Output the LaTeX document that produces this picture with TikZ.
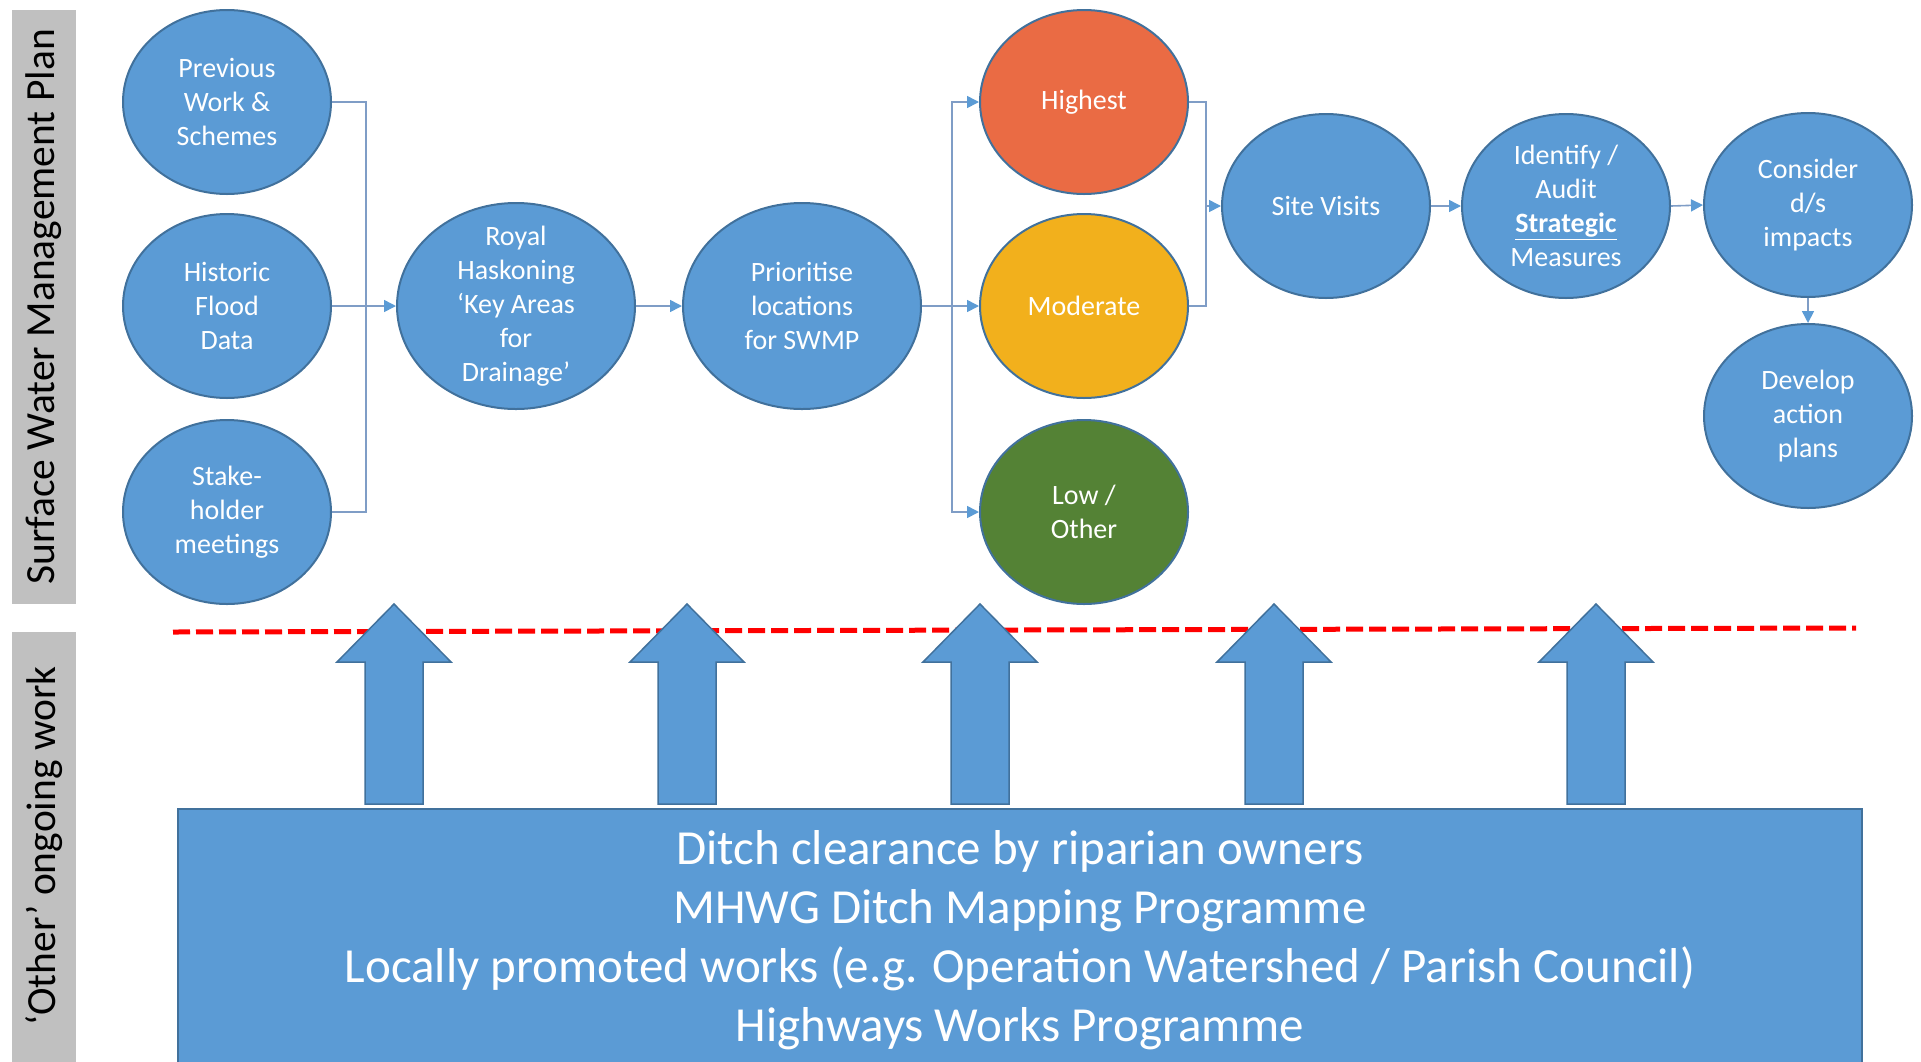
\documentclass[tikz,border=0pt]{standalone}
\usepackage{fontspec}
\setmainfont{Carlito}
\usetikzlibrary{shapes.geometric,arrows.meta}
\definecolor{boxblue}{HTML}{5B9BD5}
\definecolor{edgeblue}{HTML}{41719C}
\definecolor{linkblue}{HTML}{7F9DC6}
\definecolor{hiorange}{HTML}{EA6B44}
\definecolor{modgold}{HTML}{F2B01C}
\definecolor{lowgreen}{HTML}{548235}
\definecolor{bandgray}{HTML}{C0C0C0}
\tikzset{
  stage/.style={ellipse, draw=edgeblue, line width=2pt, fill=boxblue,
    text=white, align=center, inner xsep=0pt, inner ysep=-16pt,
    font=\fontsize{28}{34}\selectfont},
  smallstage/.style={stage, minimum width=208pt, minimum height=184pt},
  widestage/.style={stage, minimum width=238pt, minimum height=206pt},
  link/.style={draw=linkblue, line width=1.6pt},
  flow/.style={link, -{Triangle[length=12pt,width=12pt,fill=boxblue,color=boxblue]}},
  band/.style={fill=bandgray, draw=none},
  bandlabel/.style={rotate=90, font=\fontsize{41.5}{48}\selectfont, text=black},
  liftarrow/.style={fill=boxblue, draw=edgeblue, line width=1.5pt},
  cutline/.style={draw=red, line width=5pt, dash pattern=on 17pt off 6pt}
}
\begin{document}
\begin{tikzpicture}[x=1pt, y=-1pt]
\useasboundingbox (0,0) rectangle (1921,1061);

% side bands
\fill[band] (12,10) rectangle (76,604);
\fill[band] (12,632) rectangle (76,1070);
\node[bandlabel] (swmp) at (44,307) {Surface Water Management Plan};
\node[bandlabel] (other) at (44,846) {‘Other’ ongoing work};

% input stages
\node[smallstage] (prev)  at (227,102) {Previous\\Work \&\\Schemes};
\node[smallstage] (hist)  at (227,306) {Historic\\Flood\\Data};
\node[smallstage] (stake) at (227,512) {Stake-\\holder\\meetings};

% key areas and prioritisation
\node[widestage] (royal) at (516,306) {Royal\\Haskoning\\‘Key Areas\\for\\Drainage’};
\node[widestage] (prio)  at (802,306) {Prioritise\\locations\\for SWMP};

% priority levels
\node[smallstage, fill=hiorange]  (high) at (1084,102) {Highest};
\node[smallstage, fill=modgold]   (mod)  at (1084,306) {Moderate};
\node[smallstage, fill=lowgreen]  (low)  at (1084,512) {Low /\\Other};

% follow-up stages
\node[smallstage] (site)  at (1326,206) {Site Visits};
\node[smallstage] (ident) at (1566,206) {Identify /\\Audit\\\underline{\textbf{Strategic}}\\Measures};
\node[smallstage] (cons)  at (1808,205) {Consider\\d/s\\impacts};
\node[smallstage] (devel) at (1808,416) {Develop\\action\\plans};

% junction points of the brackets
\coordinate (jin)  at (366,306);
\coordinate (jfan) at (952,306);
\coordinate (jmrg) at (1206,206);

% connectors
\draw[link] (prev.east) -| (jin) |- (stake.east);
\draw[flow] (hist.east) -- (royal.west);
\draw[flow] (royal.east) -- (prio.west);
\draw[flow] (prio.east) -- (mod.west);
\draw[flow] (jfan) |- (high.west);
\draw[flow] (jfan) |- (low.west);
\draw[link] (high.east) -| (jmrg) |- (mod.east);
\draw[flow] (jmrg) -- (site.west);
\draw[flow] (site.east) -- (ident.west);
\draw[flow] (ident.east) -- (cons.west);
\draw[flow] (cons.south) -- (devel.north);

% boundary between the plan and other work
\draw[cutline] (173,632) -- (1856,628);

% block arrows feeding the plan
\foreach \cx in {394,687,980,1274,1596} {
  \draw[liftarrow] (\cx,604) -- (\cx+57,662) -- (\cx+29,662) -- (\cx+29,804)
    -- (\cx-29,804) -- (\cx-29,662) -- (\cx-57,662) -- cycle;
}

% ongoing work panel
\draw[fill=boxblue, draw=edgeblue, line width=1.5pt] (178,809) rectangle (1862,1075);
\node[text=white, align=center, font=\fontsize{49}{59}\selectfont] (work) at (1020,940)
  {Ditch clearance by riparian owners\\
   MHWG Ditch Mapping Programme\\
   Locally promoted works (e.g. Operation Watershed / Parish Council)\\
   Highways Works Programme};
\end{tikzpicture}
\end{document}
